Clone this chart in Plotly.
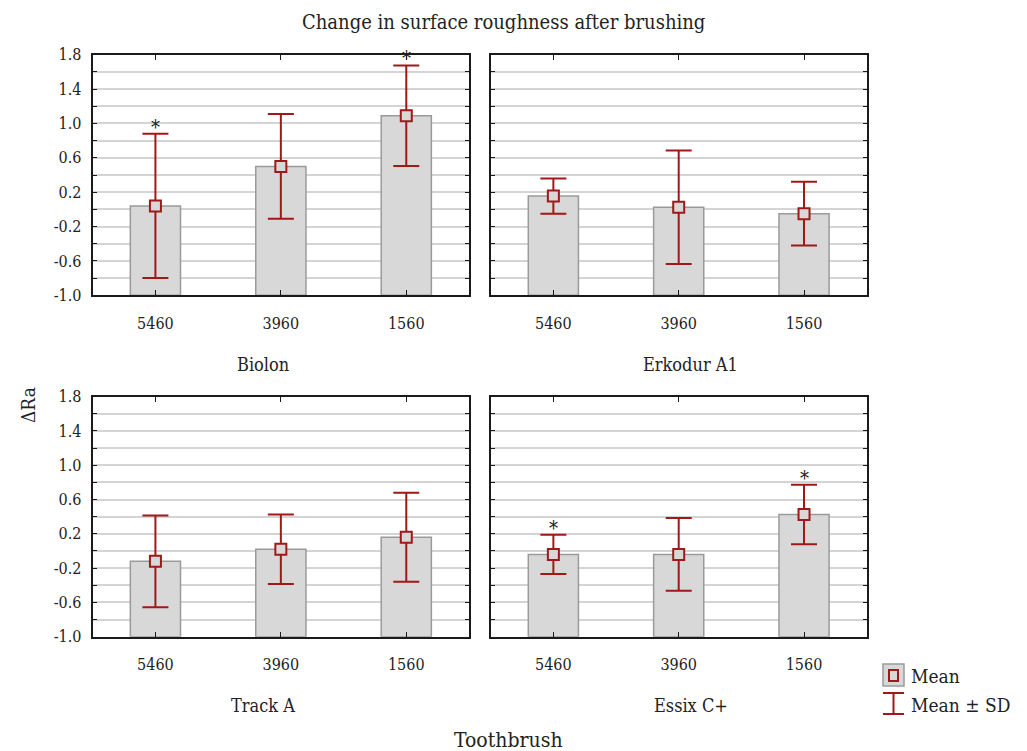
import plotly.graph_objects as go

# ---------------- data ----------------
categories = ["5460", "3960", "1560"]
groups = ["Biolon", "Erkodur A1", "Track A", "Essix C+"]

means_biolon = [0.04, 0.50, 1.09]
sd_biolon = [0.84, 0.61, 0.585]
means_erkodur = [0.155, 0.025, -0.05]
sd_erkodur = [0.205, 0.66, 0.37]
means_track = [-0.12, 0.02, 0.16]
sd_track = [0.535, 0.405, 0.52]
means_essix = [-0.04, -0.04, 0.425]
sd_essix = [0.228, 0.425, 0.347]

signif_biolon = [True, False, True]
signif_erkodur = [False, False, False]
signif_track = [False, False, False]
signif_essix = [True, False, True]

y_tick_vals = [-1.0, -0.6, -0.2, 0.2, 0.6, 1.0, 1.4, 1.8]
y_tick_text = ["-1.0", "-0.6", "-0.2", "0.2", "0.6", "1.0", "1.4", "1.8"]

title_text = "Change in surface roughness after brushing"
y_title = "ΔRa"
x_title = "Toothbrush"
legend_labels = ["Mean", "Mean ± SD"]

# ---------------- style ----------------
W, H = 1027, 751
Y_MIN, Y_MAX = -1.0, 1.8
FONT = "DejaVu Serif Condensed, DejaVu Serif, serif"
RED = "#a01818"
BAR_FILL = "#d8d8d8"
BAR_LINE = "#9a9a9a"
GRID = "#d4d4d4"

def px(xp):
    return xp / W

def py(yp):
    return 1 - yp / H

panels = [
    dict(means=means_biolon, sd=sd_biolon, sig=signif_biolon, xd=(92.7, 469.0), yd=(54.7, 295.3), labels=True),
    dict(means=means_erkodur, sd=sd_erkodur, sig=signif_erkodur, xd=(490.7, 866.7), yd=(54.7, 295.3), labels=False),
    dict(means=means_track, sd=sd_track, sig=signif_track, xd=(92.7, 469.0), yd=(396.7, 636.7), labels=True),
    dict(means=means_essix, sd=sd_essix, sig=signif_essix, xd=(490.7, 866.7), yd=(396.7, 636.7), labels=False),
]
group_label_pos = [(263, 364), (690, 364), (263, 705), (691, 705)]

fig = go.Figure()
annotations = []
layout_axes = {}

for i, p in enumerate(panels):
    n = i + 1
    xa = "x" if n == 1 else f"x{n}"
    ya = "y" if n == 1 else f"y{n}"
    fig.add_trace(go.Bar(
        x=categories, y=[m - Y_MIN for m in p["means"]], base=Y_MIN,
        xaxis=xa, yaxis=ya, width=0.4,
        marker=dict(color=BAR_FILL, line=dict(color=BAR_LINE, width=1.5)),
        showlegend=False, hoverinfo="skip",
    ))
    fig.add_trace(go.Scatter(
        x=categories, y=p["means"], xaxis=xa, yaxis=ya, mode="markers",
        marker=dict(symbol="square", size=11, color=BAR_FILL, line=dict(color=RED, width=2)),
        error_y=dict(type="data", array=p["sd"], color=RED, thickness=2, width=13),
        showlegend=False,
    ))
    for k, (m, s, flag) in enumerate(zip(p["means"], p["sd"], p["sig"])):
        if flag:
            annotations.append(dict(
                x=k, y=m + s, xref=xa, yref=ya, text="*", showarrow=False,
                yanchor="bottom", yshift=-7, font=dict(family=FONT, size=20, color="#222"),
            ))
    xkey = "xaxis" if n == 1 else f"xaxis{n}"
    ykey = "yaxis" if n == 1 else f"yaxis{n}"
    layout_axes[xkey] = dict(
        domain=[px(p["xd"][0]), px(p["xd"][1])], anchor=ya, type="category",
        range=[-0.5, 2.5], showline=True, linecolor="#1a1a1a", linewidth=2, mirror="ticks",
        ticks="inside", ticklen=5, tickcolor="#1a1a1a", showgrid=False, zeroline=False,
        automargin=False,
        tickfont=dict(family=FONT, size=16, color="#222"), ticklabelstandoff=12,
    )
    layout_axes[ykey] = dict(
        domain=[py(p["yd"][1]), py(p["yd"][0])], anchor=xa, range=[Y_MIN, Y_MAX],
        tickvals=y_tick_vals, ticktext=y_tick_text, showticklabels=p["labels"],
        showline=True, linecolor="#1a1a1a", linewidth=2, mirror="ticks",
        ticks="inside", ticklen=4, tickcolor="#1a1a1a",
        showgrid=True, gridcolor=GRID, gridwidth=2, zeroline=False,
        automargin=False,
        minor=dict(dtick=0.2, tick0=-1.0, showgrid=True, gridcolor=GRID, gridwidth=2,
                   ticks="inside", ticklen=4, tickcolor="#1a1a1a"),
        tickfont=dict(family=FONT, size=16, color="#222"), ticklabelstandoff=6,
    )
    gx, gy = group_label_pos[i]
    annotations.append(dict(x=px(gx), y=py(gy), xref="paper", yref="paper", text=groups[i],
                            showarrow=False, xanchor="center", yanchor="middle",
                            font=dict(family=FONT, size=18, color="#222")))

# titles
annotations.append(dict(x=px(503), y=py(22), xref="paper", yref="paper", text=title_text,
                        showarrow=False, xanchor="center", yanchor="middle",
                        font=dict(family=FONT, size=20, color="#222")))
annotations.append(dict(x=px(28), y=py(405), xref="paper", yref="paper", text=y_title,
                        showarrow=False, textangle=-90, xanchor="center", yanchor="middle",
                        font=dict(family=FONT, size=19, color="#222")))
annotations.append(dict(x=px(508), y=py(740), xref="paper", yref="paper", text=x_title,
                        showarrow=False, xanchor="center", yanchor="middle",
                        font=dict(family=FONT, size=21, color="#222")))

# custom legend
shapes = [
    dict(type="rect", xref="paper", yref="paper", x0=px(883), x1=px(904), y0=py(686), y1=py(664),
         fillcolor=BAR_FILL, line=dict(color=BAR_LINE, width=1.5)),
    dict(type="rect", xref="paper", yref="paper", x0=px(889), x1=px(898), y0=py(681), y1=py(670),
         fillcolor=BAR_FILL, line=dict(color=RED, width=2)),
    dict(type="line", xref="paper", yref="paper", x0=px(893.5), x1=px(893.5), y0=py(714), y1=py(693),
         line=dict(color=RED, width=2)),
    dict(type="line", xref="paper", yref="paper", x0=px(883), x1=px(904), y0=py(693), y1=py(693),
         line=dict(color=RED, width=2)),
    dict(type="line", xref="paper", yref="paper", x0=px(883), x1=px(904), y0=py(714), y1=py(714),
         line=dict(color=RED, width=2)),
]
annotations.append(dict(x=px(909), y=py(676), xref="paper", yref="paper", text=legend_labels[0],
                        showarrow=False, xanchor="left", yanchor="middle",
                        font=dict(family=FONT, size=19, color="#222")))
annotations.append(dict(x=px(909), y=py(705), xref="paper", yref="paper", text=legend_labels[1],
                        showarrow=False, xanchor="left", yanchor="middle",
                        font=dict(family=FONT, size=19, color="#222")))

fig.update_layout(
    width=W, height=H, margin=dict(l=0, r=0, t=0, b=0, autoexpand=False),
    paper_bgcolor="white", plot_bgcolor="white",
    showlegend=False, barmode="overlay",
    annotations=annotations, shapes=shapes,
    **layout_axes,
)

fig.write_html("out.html")
